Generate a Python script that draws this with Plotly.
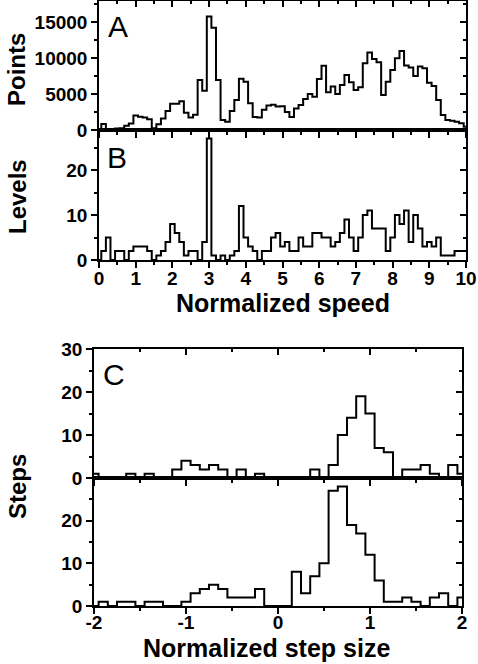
import numpy as np
import plotly.graph_objects as go

# ---------------- data ----------------
speed = np.round(np.arange(81) * 0.125, 3)  # bin centres 0..10
points = [100, 830, 150, 150, 200, 250, 600, 900,
          2000, 1850, 1750, 1500, 230, 800, 1600, 2650,
          3650, 3650, 4000, 2400, 1750, 2100, 6950, 5450,
          15750, 14200, 6950, 1400, 1150, 2650, 4150, 7100,
          6700, 3700, 1800, 1750, 2800, 3400, 3500, 3250,
          3300, 2500, 1800, 3000, 3470, 4300, 5000, 4630,
          7080, 8900, 5230, 6020, 5000, 6250, 7640, 6620,
          5560, 5930, 9260, 10740, 9860, 9400, 4860, 6710,
          8330, 9950, 10970, 8940, 8660, 7500, 8800, 8570,
          6570, 6110, 4170, 2080, 1390, 1300, 1160, 930,
          460]
levels = [0, 2, 5, 0, 2, 2, 0, 2,
          3, 3, 3, 2, 0, 1, 2, 4,
          8, 6, 4, 1, 2, 2, 0, 4,
          27, 1, 0, 1, 0, 1, 2, 12,
          5, 3, 2, 0, 2, 2, 5, 6,
          3, 4, 2, 2, 5, 3, 3, 6,
          6, 5, 5, 3, 4, 6, 9, 5,
          2, 5, 10, 11, 7, 7, 7, 2,
          5, 10, 8, 11, 4, 10, 7, 3,
          4, 3, 5, 1, 1, 1, 2, 2,
          2]
step_size = np.round(np.arange(-20, 21) * 0.1, 2)  # bin centres -2..2
steps_top = [1, 0, 0, 0, 1, 0, 1, 0, 0, 2,
             4, 3, 2, 3, 2, 0, 2, 0, 1, 0,
             0, 0, 0, 0, 2, 0, 3, 10, 14, 19,
             15, 7, 6, 0, 2, 2, 3, 1, 0, 3,
             1]
steps_bottom = [0, 1, 0, 1, 1, 0, 1, 1, 0, 0,
                1, 3, 4, 5, 4, 2, 2, 2, 4, 0,
                0, 0, 8, 3, 7, 10, 27, 28, 19, 17,
                12, 6, 1, 1, 2, 1, 0, 2, 3, 0,
                2]

# ---------------- layout helpers ----------------
W, H = 478, 664
def fx(p):
    return p / W
def fy(p):
    return 1 - p / H

AB_X = [fx(99), fx(466)]
C_X = [fx(94), fx(462)]
DOM = {1: [fy(130), fy(1)], 2: [fy(260), fy(130)],
       3: [fy(478), fy(349)], 4: [fy(606), fy(478)]}
FONT = 'Liberation Sans, Arial, sans-serif'
tickfont = dict(family=FONT, size=19, color='black', weight='bold')

def minor(d, side):
    return dict(ticks=side, ticklen=3, tickwidth=1.5, tickcolor='black',
                tick0=0, dtick=d)

def base(**kw):
    d = dict(showgrid=False, zeroline=False, showline=True, linecolor='black',
             linewidth=1.5, ticks='outside', ticklen=6, tickwidth=1.5,
             tickcolor='black', tickfont=tickfont, mirror=True, fixedrange=True,
             automargin=False, tickformat='d')
    d.update(kw)
    return d

def overlay(ov, side, anchor, rng, **kw):
    d = dict(overlaying=ov, side=side, anchor=anchor, range=rng,
             showgrid=False, zeroline=False, showline=False,
             ticks='inside', ticklen=6, tickwidth=1.5, tickcolor='black',
             showticklabels=False, fixedrange=True, automargin=False)
    d.update(kw)
    return d

fig = go.Figure()
line = dict(color='black', width=2, shape='hvh')
fig.add_trace(go.Scatter(x=speed, y=points, mode='lines', line=line, xaxis='x', yaxis='y'))
fig.add_trace(go.Scatter(x=speed, y=levels, mode='lines', line=line, xaxis='x2', yaxis='y2'))
fig.add_trace(go.Scatter(x=step_size, y=steps_top, mode='lines', line=line, xaxis='x3', yaxis='y3'))
fig.add_trace(go.Scatter(x=step_size, y=steps_bottom, mode='lines', line=line, xaxis='x4', yaxis='y4'))
for k in (5, 6, 7, 8):
    fig.add_trace(go.Scatter(x=[None], y=[None], mode='lines', xaxis=f'x{k}', yaxis=f'y{k}',
                             hoverinfo='skip'))

RA = [0, 10]
RC = [-2, 2]
YR = {1: [0, 17900], 2: [0, 28.9], 3: [0, 30], 4: [0, 30]}
YD = {1: (5000, 2500), 2: (10, 5), 3: (10, 5), 4: (10, 5)}

lay = dict(
    xaxis=base(domain=AB_X, range=RA, anchor='y', tickmode='linear', tick0=0, dtick=1,
               minor=minor(0.5, 'outside'), showticklabels=False),
    xaxis2=base(domain=AB_X, range=RA, anchor='y2', tickmode='linear', tick0=0, dtick=1,
                minor=minor(0.5, 'outside'), ticklabelstandoff=-6),
    xaxis3=base(domain=C_X, range=RC, anchor='y3', tickvals=[-2, -1, 0, 1, 2],
                minor=minor(0.5, 'outside'), showticklabels=False),
    xaxis4=base(domain=C_X, range=RC, anchor='y4', tickvals=[-2, -1, 0, 1, 2],
                ticktext=['-2', '-1', '0', '1', '2'], minor=minor(0.5, 'outside'),
                ticklabelstandoff=-8),
    yaxis=base(domain=DOM[1], range=YR[1], anchor='x', tickmode='linear', tick0=0, dtick=5000,
               minor=minor(2500, 'outside')),
    yaxis2=base(domain=DOM[2], range=YR[2], anchor='x2', tickmode='linear', tick0=0, dtick=10,
                minor=minor(5, 'outside')),
    yaxis3=base(domain=DOM[3], range=YR[3], anchor='x3', tickvals=[0, 10, 20, 30],
                minor=minor(5, 'outside')),
    yaxis4=base(domain=DOM[4], range=YR[4], anchor='x4', tickvals=[0, 10, 20, 30],
                ticktext=['0', '10', '20', ''], minor=minor(5, 'outside')),
)
xmain = {5: 'x', 6: 'x2', 7: 'x3', 8: 'x4'}
ymain = {5: 'y', 6: 'y2', 7: 'y3', 8: 'y4'}
for k, p in zip((5, 6, 7, 8), (1, 2, 3, 4)):
    xr = RA if p <= 2 else RC
    lay[f'xaxis{k}'] = overlay(xmain[k], 'top', f'y{k}', xr, tickmode='linear', tick0=0, dtick=1,
                               minor=minor(0.5, 'inside'))
    lay[f'yaxis{k}'] = overlay(ymain[k], 'right', f'x{k}', YR[p], tickmode='linear', tick0=0,
                               dtick=YD[p][0], minor=minor(YD[p][1], 'inside'))

def ann(text, x, y, size, bold=True, angle=0):
    return dict(text=text, x=fx(x), y=fy(y), xref='paper', yref='paper', showarrow=False,
                xanchor='center', yanchor='middle', textangle=angle,
                font=dict(family=FONT, size=size, color='black',
                          weight='bold' if bold else 'normal'))

annotations = [
    ann('Points', 17, 70, 24, angle=-90),
    ann('Levels', 17, 197, 24, angle=-90),
    ann('Steps', 17, 487, 24, angle=-90),
    ann('Normalized speed', 283, 303, 25),
    ann('Normalized step size', 266, 648, 25),
    ann('A', 118, 26, 30, bold=False),
    ann('B', 117, 157, 30, bold=False),
    ann('C', 114, 374, 30, bold=False),
]

fig.update_layout(width=W, height=H, autosize=False, showlegend=False,
                  margin=dict(l=0, r=0, t=0, b=0, pad=0), plot_bgcolor='white',
                  paper_bgcolor='white', annotations=annotations, **lay)

fig.write_html('out.html', config={'displayModeBar': False},
               post_script="document.body.style.margin='0px';document.body.style.padding='0px';")
